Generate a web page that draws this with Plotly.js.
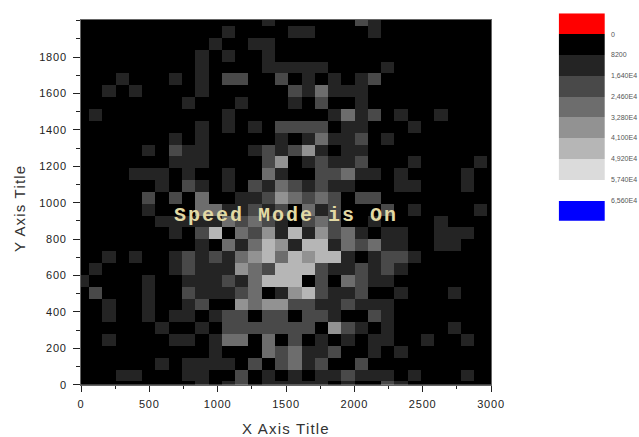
<!DOCTYPE html>
<html><head><meta charset="utf-8">
<script src="https://cdn.plot.ly/plotly-3.0.1.min.js"></script>
<style>html,body{margin:0;padding:0;background:#fff}
.annotation-text{letter-spacing:2px}
.xtitle,.ytitle{letter-spacing:1.2px}
.xtick text,.ytick text{letter-spacing:.8px}
.y2tick text{letter-spacing:0}
</style></head>
<body><div id="c" style="width:639px;height:437px"></div>
<script>
// Grey level of every cell, top row first, 32 columns by 32 rows.
const levelRows = [
"00000000000000100000021000000000",
"00000000000100001100001000000000",
"00000000001001100000000000000000",
"00000000010100100000000000000000",
"00000000010000111110000100000000",
"00010001010220020101012000000000",
"00101000010000002131110000000000",
"00000000100010001020010000000000",
"01000000000100000001312010010000",
"00000000010101022220110001000000",
"00000001010000010131120100000000",
"00000102110001212410110000000000",
"00000001110000240121120001000010",
"00001110100100310022311010000100",
"00000010210102132121100011000100",
"00000202030011243232022000000000",
"00000100033112120312000201000010",
"00000011111323210232001000010000",
"00000001025032415142310110011100",
"00000000010313541551323110011000",
"00101001212134535455101221000000",
"01000001211143255521121210000000",
"10000100111213555020321100000000",
"02000100211123014521120010001000",
"00100100120043442211211100000000",
"00100101101220220221002100000000",
"00000010010222222204210100001000",
"00100001101330302010101100100100",
"00000000001000323112001010000000",
"00000010111102023120020000000000",
"00011000110020101011211101000100",
"00000000010120111110100210000000"
];
const bandStep = 8200;
const grayColors = ["#000000","#242424","#494949","#6d6d6d","#929292","#b6b6b6","#dbdbdb"];
const legendLabels = ["0","8200","1,640E4","2,460E4","3,280E4","4,100E4","4,920E4","5,740E4","6,560E4"];
const legendEdges = [1,2,3,4,5,6,7,8,9];
const legendColors = ["#ff0000",...grayColors,"#ffffff","#0000ff"];
const xTicks = [0,500,1000,1500,2000,2500,3000];
const yTicks = [0,200,400,600,800,1000,1200,1400,1600,1800];

const W=639,H=437;
const z = levelRows.slice().reverse().map(r => r.split("").map(d => (+d + 0.5) * bandStep));
function stepScale(cols){
  const n=cols.length, s=[];
  cols.forEach((c,i)=>{s.push([i/n,c]);s.push([(i+1)/n,c]);});
  return s;
}
const axisFont={family:"Liberation Sans, Arial, sans-serif",size:11,color:"#222"};
const titleFont={family:"Liberation Sans, Arial, sans-serif",size:15,color:"#333"};
const traces=[
 {type:"heatmap",z:z,x0:10.05,dx:97.1,y0:-12,dy:65,zmin:0,zmax:7*bandStep,
  colorscale:stepScale(grayColors),showscale:false,hoverinfo:"skip",zsmooth:false,xaxis:"x",yaxis:"y"},
 {type:"heatmap",z:legendColors.map((c,i)=>[i]),x:[0],y:legendColors.map((c,i)=>i+0.5),
  zmin:0,zmax:legendColors.length,colorscale:stepScale(legendColors),showscale:false,hoverinfo:"skip",xaxis:"x2",yaxis:"y2"}
];
const layout={
 width:W,height:H,margin:{l:0,r:0,t:0,b:0},paper_bgcolor:"#fff",plot_bgcolor:"#fff",showlegend:false,
 xaxis:{domain:[81/W,491/W],range:[0,3000],tickvals:xTicks,ticks:"outside",ticklen:6,tickwidth:1,tickcolor:"#222",
  minor:{dtick:250,ticks:"outside",ticklen:3,tickcolor:"#222"},ticklabelstandoff:3,
  showgrid:false,zeroline:false,showline:true,linecolor:"#666",linewidth:1,mirror:true,tickfont:axisFont,
  title:{text:"X Axis Title",font:titleFont,standoff:18},anchor:"y",automargin:false},
 yaxis:{domain:[1-384.7/H,1-20/H],range:[0,2004],tickvals:yTicks,ticks:"outside",ticklen:7,tickwidth:1,tickcolor:"#222",
  minor:{dtick:100,ticks:"outside",ticklen:4,tickcolor:"#222"},ticklabelstandoff:4,
  showgrid:false,zeroline:false,showline:true,linecolor:"#666",linewidth:1,mirror:true,tickfont:axisFont,
  title:{text:"Y Axis Title",font:titleFont,standoff:9},anchor:"x",automargin:false},
 xaxis2:{domain:[558.7/W,605/W],range:[-0.5,0.5],showticklabels:false,ticks:"",showgrid:false,zeroline:false,showline:false,anchor:"y2"},
 yaxis2:{domain:[1-220.8/H,1-13.3/H],range:[10,0],side:"right",anchor:"x2",tickvals:legendEdges,ticktext:legendLabels,ticks:"",
  showgrid:false,zeroline:false,showline:false,ticklabelstandoff:5,
  tickfont:{family:"Liberation Sans, Arial, sans-serif",size:7,color:"#555"}},
 annotations:[{xref:"x",yref:"y",x:1500,y:930,text:"<b>Speed Mode is On</b>",showarrow:false,
  font:{family:"Liberation Mono, monospace",size:20,color:"#e2d9a4"}}]
};
Plotly.newPlot("c",traces,layout,{displayModeBar:false,staticPlot:true}).then(gd=>{
  const t=gd.querySelector(".ytitle");
  if(t){t.setAttribute("transform","translate(0,6) "+(t.getAttribute("transform")||""));}
});
</script></body></html>
